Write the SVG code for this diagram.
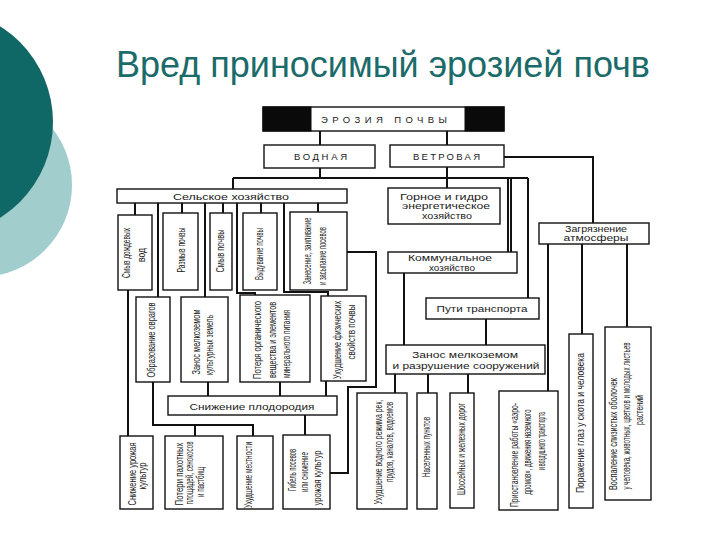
<svg xmlns="http://www.w3.org/2000/svg" width="720" height="540" viewBox="0 0 720 540">
<style>
.box{fill:#fff;stroke:#111;stroke-width:1.4}
.blk{fill:#0a0a0a;stroke:#0a0a0a;stroke-width:1}
.ln{fill:none;stroke:#111;stroke-width:2}
.th{font-family:"Liberation Sans",Arial,sans-serif;font-size:9.5px;fill:#1a1a1a}
.ts{font-family:"Liberation Sans",Arial,sans-serif;font-size:8.5px;fill:#1a1a1a}
.v{font-family:"Liberation Sans",Arial,sans-serif;font-size:10px;fill:#1a1a1a;text-anchor:middle}
.title{font-family:"Liberation Sans",Arial,sans-serif;font-size:36px;fill:#1a6b69}
</style>
<rect width="720" height="540" fill="#fff"/>
<circle cx="-20" cy="185" r="92" fill="#a1cdcc"/>
<circle cx="-60" cy="122" r="113" fill="#0f6866"/>
<text class="title" x="116" y="77" textLength="534" lengthAdjust="spacingAndGlyphs">Вред приносимый эрозией почв</text>

<g id="connectors">
<path class="ln" d="M320,131V145M447,131V145M320,168V178M233,178H528M233,178V189M447,167V188M504,157H593V223M508,178V252M511,178V252M528,178V298M486,319V345M548,244V391M582,244V334M627,244V327M395,374V393M428,374V393M468,374V393"/>
<path class="ln" d="M404,273V345" stroke-width="2.8"/>
<path class="ln" d="M135,203V215M182,203V213M223,203V213M261,203V213M318,203V212M158,203V297M205,203V297M237,203V293H255V295M284,203V292H328V296M128,290V436M347,252H376V387H348V473H330M208,382V396M280,382V396M326,381V396M153,382V425H253V436M195,425V436M305,415V435"/>
</g>

<g id="n-erosion">
<rect class="box" x="263" y="107" width="241" height="24"/>
<rect class="blk" x="263" y="107" width="48" height="24"/>
<rect class="blk" x="465" y="107" width="39" height="24"/>
<text class="th" x="321" y="123" textLength="126" lengthAdjust="spacing">ЭРОЗИЯ ПОЧВЫ</text>
</g>
<g id="n-vodnaya">
<rect class="box" x="264" y="145" width="111" height="23"/>
<text class="th" x="294" y="160" textLength="53" lengthAdjust="spacing">ВОДНАЯ</text>
</g>
<g id="n-vetrovaya">
<rect class="box" x="390" y="145" width="114" height="22"/>
<text class="th" x="413" y="159.5" textLength="67" lengthAdjust="spacing">ВЕТРОВАЯ</text>
</g>
<g id="n-selskoe">
<rect class="box" x="117" y="189" width="230" height="14"/>
<text class="th" x="173" y="200" textLength="116" lengthAdjust="spacingAndGlyphs">Сельское хозяйство</text>
</g>
<g id="n-gornoe">
<rect class="box" x="388" y="188" width="112" height="36"/>
<text class="ts" x="444" y="199.5" text-anchor="middle" textLength="88" lengthAdjust="spacingAndGlyphs">Горное и гидро</text>
<text class="ts" x="446" y="209" text-anchor="middle" textLength="88" lengthAdjust="spacingAndGlyphs">энергетическое</text>
<text class="ts" x="447" y="218.5" text-anchor="middle" textLength="50" lengthAdjust="spacingAndGlyphs">хозяйство</text>
</g>
<g id="n-zagryaznenie">
<rect class="box" x="539" y="223" width="110" height="21"/>
<text class="ts" x="596" y="231.5" text-anchor="middle" textLength="62" lengthAdjust="spacingAndGlyphs">Загрязнение</text>
<text class="ts" x="596" y="241" text-anchor="middle" textLength="65" lengthAdjust="spacingAndGlyphs">атмосферы</text>
</g>
<g id="n-kommunalnoe">
<rect class="box" x="388" y="252" width="129" height="21"/>
<text class="ts" x="450" y="260.5" text-anchor="middle" textLength="84" lengthAdjust="spacingAndGlyphs">Коммунальное</text>
<text class="ts" x="452" y="270.5" text-anchor="middle" textLength="46" lengthAdjust="spacingAndGlyphs">хозяйство</text>
</g>
<g id="n-puti">
<rect class="box" x="426" y="298" width="113" height="21"/>
<text class="th" x="482" y="312" text-anchor="middle" textLength="91" lengthAdjust="spacingAndGlyphs">Пути транспорта</text>
</g>
<g id="n-zanos">
<rect class="box" x="386" y="345" width="159" height="29"/>
<text class="th" x="465" y="357.5" text-anchor="middle" font-size="10.5" textLength="106" lengthAdjust="spacingAndGlyphs">Занос мелкоземом</text>
<text class="th" x="466" y="369" text-anchor="middle" font-size="10.5" textLength="147" lengthAdjust="spacingAndGlyphs">и разрушение сооружений</text>
</g>
<g id="n-snizhenie-plod">
<rect class="box" x="168" y="396" width="169" height="19"/>
<text class="th" x="252" y="409.5" text-anchor="middle" textLength="125" lengthAdjust="spacingAndGlyphs">Снижение плодородия</text>
</g>

<g id="n-smyv-dozhd">
<rect class="box" x="118" y="215" width="34" height="75"/>
<text class="v" transform="translate(130,253) rotate(-90)" textLength="50" lengthAdjust="spacingAndGlyphs">Смыв дождевых</text>
<text class="v" transform="translate(145,255) rotate(-90)" textLength="14" lengthAdjust="spacingAndGlyphs">вод</text>
</g>
<g id="n-razmyv">
<rect class="box" x="163" y="213" width="35" height="77"/>
<text class="v" transform="translate(185,250) rotate(-90)" textLength="45" lengthAdjust="spacingAndGlyphs">Размыв почвы</text>
</g>
<g id="n-smyv">
<rect class="box" x="210" y="213" width="22" height="77"/>
<text class="v" transform="translate(224,251) rotate(-90)" textLength="43" lengthAdjust="spacingAndGlyphs">Смыв почвы</text>
</g>
<g id="n-vyduvanie">
<rect class="box" x="243" y="213" width="34" height="77"/>
<text class="v" transform="translate(263,254) rotate(-90)" textLength="52" lengthAdjust="spacingAndGlyphs">Выдувание почвы</text>
</g>
<g id="n-zanesenie">
<rect class="box" x="290" y="212" width="57" height="78"/>
<text class="v" transform="translate(311,251) rotate(-90)" textLength="67" lengthAdjust="spacingAndGlyphs">Занесение, заиливание</text>
<text class="v" transform="translate(326,256) rotate(-90)" textLength="58" lengthAdjust="spacingAndGlyphs">и засыпание посевов</text>
</g>

<g id="n-ovragi">
<rect class="box" x="136" y="297" width="34" height="85"/>
<text class="v" transform="translate(155,340) rotate(-90)" textLength="75" lengthAdjust="spacingAndGlyphs">Образование оврагов</text>
</g>
<g id="n-zanos-kult">
<rect class="box" x="181" y="297" width="47" height="85"/>
<text class="v" transform="translate(200,342) rotate(-90)" textLength="65" lengthAdjust="spacingAndGlyphs">Занос мелкоземом</text>
<text class="v" transform="translate(213,345) rotate(-90)" textLength="60" lengthAdjust="spacingAndGlyphs">культурных земель</text>
</g>
<g id="n-poterya">
<rect class="box" x="240" y="295" width="70" height="87"/>
<text class="v" transform="translate(261,340) rotate(-90)" textLength="78" lengthAdjust="spacingAndGlyphs">Потеря органического</text>
<text class="v" transform="translate(276,340) rotate(-90)" textLength="76" lengthAdjust="spacingAndGlyphs">вещества и элементов</text>
<text class="v" transform="translate(290,344) rotate(-90)" textLength="68" lengthAdjust="spacingAndGlyphs">минерального питания</text>
</g>
<g id="n-fiz">
<rect class="box" x="321" y="296" width="45" height="85"/>
<text class="v" transform="translate(341,340) rotate(-90)" textLength="78" lengthAdjust="spacingAndGlyphs">Ухудшение физических</text>
<text class="v" transform="translate(355,332) rotate(-90)" textLength="55" lengthAdjust="spacingAndGlyphs">свойств почвы</text>
</g>

<g id="n-urozhai">
<rect class="box" x="120" y="436" width="33" height="73"/>
<text class="v" transform="translate(136,474) rotate(-90)" textLength="63" lengthAdjust="spacingAndGlyphs">Снижение урожая</text>
<text class="v" transform="translate(146,476) rotate(-90)" textLength="27" lengthAdjust="spacingAndGlyphs">культур</text>
</g>
<g id="n-poteri">
<rect class="box" x="165" y="436" width="58" height="73"/>
<text class="v" transform="translate(183,474) rotate(-90)" textLength="63" lengthAdjust="spacingAndGlyphs">Потери пахотных</text>
<text class="v" transform="translate(193,473) rotate(-90)" textLength="63" lengthAdjust="spacingAndGlyphs">площадей, сенокосов</text>
<text class="v" transform="translate(204,482) rotate(-90)" textLength="30" lengthAdjust="spacingAndGlyphs">и пастбищ</text>
</g>
<g id="n-mestnost">
<rect class="box" x="237" y="436" width="36" height="73"/>
<text class="v" transform="translate(252,475) rotate(-90)" textLength="66" lengthAdjust="spacingAndGlyphs">Ухудшение местности</text>
</g>
<g id="n-gibel">
<rect class="box" x="283" y="435" width="47" height="74"/>
<text class="v" transform="translate(296,470) rotate(-90)" textLength="42" lengthAdjust="spacingAndGlyphs">Гибель посевов</text>
<text class="v" transform="translate(308,472) rotate(-90)" textLength="40" lengthAdjust="spacingAndGlyphs">или снижение</text>
<text class="v" transform="translate(321,478) rotate(-90)" textLength="55" lengthAdjust="spacingAndGlyphs">урожая культур</text>
</g>

<g id="n-vodnyi-rezhim">
<rect class="box" x="357" y="393" width="50" height="116"/>
<text class="v" transform="translate(382,452) rotate(-90)" textLength="105" lengthAdjust="spacingAndGlyphs">Ухудшение водного режима рек,</text>
<text class="v" transform="translate(393,442) rotate(-90)" textLength="80" lengthAdjust="spacingAndGlyphs">прудов, каналов, водоемов</text>
</g>
<g id="n-naselennye">
<rect class="box" x="417" y="393" width="20" height="116"/>
<text class="v" transform="translate(430,447) rotate(-90)" textLength="60" lengthAdjust="spacingAndGlyphs">Населенных пунктов</text>
</g>
<g id="n-dorogi">
<rect class="box" x="450" y="393" width="24" height="115"/>
<text class="v" transform="translate(465,449) rotate(-90)" textLength="92" lengthAdjust="spacingAndGlyphs">Шоссейных и железных дорог</text>
</g>
<g id="n-transport">
<rect class="box" x="499" y="391" width="59" height="119"/>
<text class="v" transform="translate(518,455) rotate(-90)" textLength="104" lengthAdjust="spacingAndGlyphs">Приостановление работы «аэро-</text>
<text class="v" transform="translate(531,452) rotate(-90)" textLength="85" lengthAdjust="spacingAndGlyphs">дромов», движения наземного</text>
<text class="v" transform="translate(545,441) rotate(-90)" textLength="58" lengthAdjust="spacingAndGlyphs">и воздушного транспорта</text>
</g>
<g id="n-porazhenie">
<rect class="box" x="569" y="334" width="24" height="174"/>
<text class="v" transform="translate(584,423) rotate(-90)" textLength="140" lengthAdjust="spacingAndGlyphs">Поражение глаз у скота и человека</text>
</g>
<g id="n-vospalenie">
<rect class="box" x="605" y="327" width="46" height="173"/>
<text class="v" transform="translate(617,434) rotate(-90)" textLength="112" lengthAdjust="spacingAndGlyphs">Воспаление слизистых оболочек</text>
<text class="v" transform="translate(630,416) rotate(-90)" textLength="147" lengthAdjust="spacingAndGlyphs">у человека, животных, цветков и молодых листьев</text>
<text class="v" transform="translate(643,410) rotate(-90)" textLength="30" lengthAdjust="spacingAndGlyphs">растений</text>
</g>
</svg>
